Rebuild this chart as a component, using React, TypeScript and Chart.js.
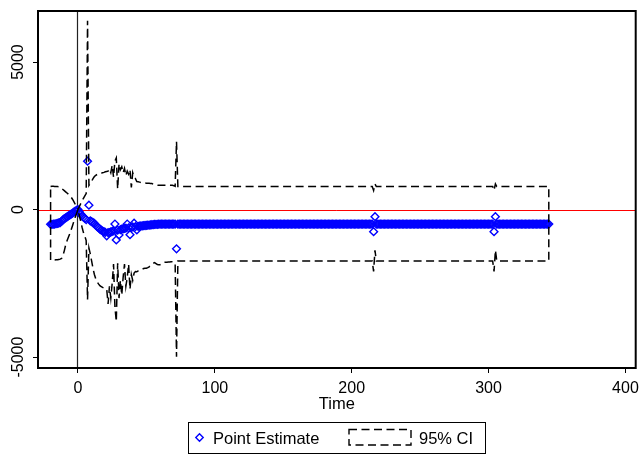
import React, { useEffect, useRef } from "react";
import { Chart, registerables } from "chart.js";

Chart.register(...registerables);

const FONT = "'Liberation Sans', Arial, Helvetica, sans-serif";

// Time runs from firstTime in steps of one period
const firstTime = -20;
const xTicks = [0, 100, 200, 300, 400];
const yTicks = [-5000, 0, 5000];
const xTitle = "Time";
const legendLabels = ["Point Estimate", "95% CI"];

// t = -20 .. 344
const pointEstimate = [
  -500, -500, -495, -490, -480, -470, -455, -440, -400, -350,
  -310, -280, -250, -215, -185, -155, -125, -90, -55, -25,
  0, -80, -150, -210, -260, -300, -340, 1640, 150, -380,
  -410, -440, -470, -530, -580, -620, -660, -700, -730, -750,
  -770, -890, -780, -780, -760, -740, -720, -490, -1030, -700,
  -860, -680, -660, -650, -640, -630, -490, -620, -850, -600,
  -590, -460, -580, -690, -570, -560, -555, -550, -545, -540,
  -535, -530, -525, -520, -515, -510, -505, -500, -500, -495,
  -495, -490, -490, -490, -490, -490, -490, -490, -490, -490,
  -490, -490, -1330,
  // 73-92
  -490, -490, -490, -490, -490, -490, -490, -490, -490, -490, -490, -490, -490, -490, -490, -490, -490, -490, -490, -490,
  // 93-112
  -490, -490, -490, -490, -490, -490, -490, -490, -490, -490, -490, -490, -490, -490, -490, -490, -490, -490, -490, -490,
  // 113-132
  -490, -490, -490, -490, -490, -490, -490, -490, -490, -490, -490, -490, -490, -490, -490, -490, -490, -490, -490, -490,
  // 133-152
  -490, -490, -490, -490, -490, -490, -490, -490, -490, -490, -490, -490, -490, -490, -490, -490, -490, -490, -490, -490,
  // 153-172
  -490, -490, -490, -490, -490, -490, -490, -490, -490, -490, -490, -490, -490, -490, -490, -490, -490, -490, -490, -490,
  // 173-192
  -490, -490, -490, -490, -490, -490, -490, -490, -490, -490, -490, -490, -490, -490, -490, -490, -490, -490, -490, -490,
  // 193-212
  -490, -490, -490, -490, -490, -490, -490, -490, -490, -490, -490, -490, -490, -490, -490, -490, -490, -490, -490, -490,
  // 213-232
  -490, -490, -490, -750, -240, -490, -490, -490, -490, -490, -490, -490, -490, -490, -490, -490, -490, -490, -490, -490,
  // 233-252
  -490, -490, -490, -490, -490, -490, -490, -490, -490, -490, -490, -490, -490, -490, -490, -490, -490, -490, -490, -490,
  // 253-272
  -490, -490, -490, -490, -490, -490, -490, -490, -490, -490, -490, -490, -490, -490, -490, -490, -490, -490, -490, -490,
  // 273-292
  -490, -490, -490, -490, -490, -490, -490, -490, -490, -490, -490, -490, -490, -490, -490, -490, -490, -490, -490, -490,
  // 293-312
  -490, -490, -490, -490, -490, -490, -490, -490, -490, -490, -490, -750, -240, -490, -490, -490, -490, -490, -490, -490,
  // 313-332
  -490, -490, -490, -490, -490, -490, -490, -490, -490, -490, -490, -490, -490, -490, -490, -490, -490, -490, -490, -490,
  // 333-344
  -490, -490, -490, -490, -490, -490, -490, -490, -490, -490, -490, -490,
];

const ciUpper = [
  780, 790, 790, 785, 780, 780, 775, 760, 720, 680,
  640, 600, 560, 520, 470, 420, 350, 270, 180, 90,
  0, 100, 200, 300, 380, 460, 540, 6400, 820, 900,
  960, 1050, 1120, 1160, 1190, 1210, 1220, 1230, 1250, 1260,
  1280, 1290, 1300, 1380, 1250, 1500, 1100, 1650, 1750, 700,
  1550, 1350, 1450, 1250, 1400, 1150, 1300, 1200, 1350, 750,
  1250, 1100, 1050, 950, 940, 930, 920, 910, 905, 900,
  895, 890, 890, 885, 880, 860, 840, 830, 825, 820,
  820, 820, 820, 820, 820, 820, 820, 820, 820, 820,
  810, 790, 2300,
  // 73-92
  780, 780, 780, 780, 780, 780, 780, 780, 780, 780, 780, 780, 780, 780, 780, 780, 780, 780, 780, 780,
  // 93-112
  780, 780, 780, 780, 780, 780, 780, 780, 780, 780, 780, 780, 780, 780, 780, 780, 780, 780, 780, 780,
  // 113-132
  780, 780, 780, 780, 780, 780, 780, 780, 780, 780, 780, 780, 780, 780, 780, 780, 780, 780, 780, 780,
  // 133-152
  780, 780, 780, 780, 780, 780, 780, 780, 780, 780, 780, 780, 780, 780, 780, 780, 780, 780, 780, 780,
  // 153-172
  780, 780, 780, 780, 780, 780, 780, 780, 780, 780, 780, 780, 780, 780, 780, 780, 780, 780, 780, 780,
  // 173-192
  780, 780, 780, 780, 780, 780, 780, 780, 780, 780, 780, 780, 780, 780, 780, 780, 780, 780, 780, 780,
  // 193-212
  780, 780, 780, 780, 780, 780, 780, 780, 780, 780, 780, 780, 780, 780, 780, 780, 780, 780, 780, 780,
  // 213-232
  780, 780, 780, 650, 870, 780, 780, 780, 780, 780, 780, 780, 780, 780, 780, 780, 780, 780, 780, 780,
  // 233-252
  780, 780, 780, 780, 780, 780, 780, 780, 780, 780, 780, 780, 780, 780, 780, 780, 780, 780, 780, 780,
  // 253-272
  780, 780, 780, 780, 780, 780, 780, 780, 780, 780, 780, 780, 780, 780, 780, 780, 780, 780, 780, 780,
  // 273-292
  780, 780, 780, 780, 780, 780, 780, 780, 780, 780, 780, 780, 780, 780, 780, 780, 780, 780, 780, 780,
  // 293-312
  780, 780, 780, 780, 780, 780, 780, 780, 780, 780, 780, 650, 870, 780, 780, 780, 780, 780, 780, 780,
  // 313-332
  780, 780, 780, 780, 780, 780, 780, 780, 780, 780, 780, 780, 780, 780, 780, 780, 780, 780, 780, 780,
  // 333-344
  780, 780, 780, 780, 780, 780, 780, 780, 780, 780, 780, 780,
];

const ciLower = [
  -1720, -1720, -1715, -1710, -1705, -1700, -1690, -1680, -1660, -1560,
  -1400, -1200, -1060, -940, -820, -690, -550, -400, -260, -130,
  0, -200, -400, -600, -780, -900, -1050, -3050, -1300, -1500,
  -1750, -2000, -2200, -2350, -2450, -2520, -2580, -2610, -2640, -2660,
  -2670, -2700, -3200, -2600, -3000, -2500, -1850, -3300, -3800, -1820,
  -3000, -2400, -2900, -2300, -1850, -2600, -2300, -1850, -2700, -2200,
  -2400, -2150, -2100, -2110, -2080, -2050, -2040, -2020, -2000, -1990,
  -1990, -1970, -1940, -1900, -1860, -1820, -1800, -1830, -1860, -1870,
  -1870, -1840, -1810, -1790, -1785, -1785, -1780, -1775, -1770, -1770,
  -1790, -1810, -4990,
  // 73-92
  -1740, -1740, -1740, -1740, -1740, -1740, -1740, -1740, -1740, -1740, -1740, -1740, -1740, -1740, -1740, -1740, -1740, -1740, -1740, -1740,
  // 93-112
  -1740, -1740, -1740, -1740, -1740, -1740, -1740, -1740, -1740, -1740, -1740, -1740, -1740, -1740, -1740, -1740, -1740, -1740, -1740, -1740,
  // 113-132
  -1740, -1740, -1740, -1740, -1740, -1740, -1740, -1740, -1740, -1740, -1740, -1740, -1740, -1740, -1740, -1740, -1740, -1740, -1740, -1740,
  // 133-152
  -1740, -1740, -1740, -1740, -1740, -1740, -1740, -1740, -1740, -1740, -1740, -1740, -1740, -1740, -1740, -1740, -1740, -1740, -1740, -1740,
  // 153-172
  -1740, -1740, -1740, -1740, -1740, -1740, -1740, -1740, -1740, -1740, -1740, -1740, -1740, -1740, -1740, -1740, -1740, -1740, -1740, -1740,
  // 173-192
  -1740, -1740, -1740, -1740, -1740, -1740, -1740, -1740, -1740, -1740, -1740, -1740, -1740, -1740, -1740, -1740, -1740, -1740, -1740, -1740,
  // 193-212
  -1740, -1740, -1740, -1740, -1740, -1740, -1740, -1740, -1740, -1740, -1740, -1740, -1740, -1740, -1740, -1740, -1740, -1740, -1740, -1740,
  // 213-232
  -1740, -1740, -1740, -2100, -1380, -1740, -1740, -1740, -1740, -1740, -1740, -1740, -1740, -1740, -1740, -1740, -1740, -1740, -1740, -1740,
  // 233-252
  -1740, -1740, -1740, -1740, -1740, -1740, -1740, -1740, -1740, -1740, -1740, -1740, -1740, -1740, -1740, -1740, -1740, -1740, -1740, -1740,
  // 253-272
  -1740, -1740, -1740, -1740, -1740, -1740, -1740, -1740, -1740, -1740, -1740, -1740, -1740, -1740, -1740, -1740, -1740, -1740, -1740, -1740,
  // 273-292
  -1740, -1740, -1740, -1740, -1740, -1740, -1740, -1740, -1740, -1740, -1740, -1740, -1740, -1740, -1740, -1740, -1740, -1740, -1740, -1740,
  // 293-312
  -1740, -1740, -1740, -1740, -1740, -1740, -1740, -1740, -1740, -1740, -1740, -2100, -1380, -1740, -1740, -1740, -1740, -1740, -1740, -1740,
  // 313-332
  -1740, -1740, -1740, -1740, -1740, -1740, -1740, -1740, -1740, -1740, -1740, -1740, -1740, -1740, -1740, -1740, -1740, -1740, -1740, -1740,
  // 333-344
  -1740, -1740, -1740, -1740, -1740, -1740, -1740, -1740, -1740, -1740, -1740, -1740,
];

const X_MIN = -29.2;
const X_MAX = 407.5;
const Y_MIN = -5370;
const Y_MAX = 6730;
const BLUE = "#0000ff";
const DASH = [8, 4.5];

const decorPlugin = {
  id: "decor",
  beforeDatasetsDraw(chart: any) {
    const { ctx, chartArea: a, scales } = chart;
    const x = scales.x;
    const y = scales.y;
    ctx.save();
    ctx.lineWidth = 1;
    const y0 = Math.round(y.getPixelForValue(0)) + 0.5;
    ctx.strokeStyle = "#ff0000";
    ctx.beginPath();
    ctx.moveTo(a.left, y0);
    ctx.lineTo(a.right, y0);
    ctx.stroke();
    const x0 = Math.round(x.getPixelForValue(0)) - 0.5;
    ctx.strokeStyle = "#222222";
    ctx.lineWidth = 1.2;
    ctx.beginPath();
    ctx.moveTo(x0, a.top);
    ctx.lineTo(x0, a.bottom);
    ctx.stroke();
    ctx.restore();
  },
  afterDatasetsDraw(chart: any) {
    const { ctx, chartArea: a } = chart;
    ctx.save();
    ctx.strokeStyle = "#000";
    ctx.lineWidth = 2;
    ctx.strokeRect(a.left, a.top, a.right - a.left, a.bottom - a.top);
    ctx.restore();
  },
  afterDraw(chart: any) {
    const { ctx, scales } = chart;
    const y = scales.y;
    ctx.save();
    // y tick labels, rotated
    ctx.fillStyle = "#000";
    ctx.font = `16px ${FONT}`;
    ctx.textAlign = "center";
    ctx.textBaseline = "middle";
    y.ticks.forEach((t: any) => {
      const py = y.getPixelForValue(t.value);
      ctx.save();
      ctx.translate(18.5, py);
      ctx.rotate(-Math.PI / 2);
      ctx.fillText(String(t.value), 0, 0);
      ctx.restore();
    });
    // legend
    ctx.strokeStyle = "#000";
    ctx.lineWidth = 1;
    ctx.strokeRect(188.5, 422.5, 297, 31);
    // diamond marker
    ctx.strokeStyle = BLUE;
    ctx.lineWidth = 1.4;
    const dx = 199.5, dy = 437.5, r = 3.7;
    ctx.beginPath();
    ctx.moveTo(dx - r, dy);
    ctx.lineTo(dx, dy - r);
    ctx.lineTo(dx + r, dy);
    ctx.lineTo(dx, dy + r);
    ctx.closePath();
    ctx.stroke();
    ctx.fillStyle = "#000";
    ctx.font = `16.5px ${FONT}`;
    ctx.textAlign = "left";
    ctx.textBaseline = "alphabetic";
    ctx.fillText(legendLabels[0], 213, 444);
    ctx.strokeStyle = "#000";
    ctx.lineWidth = 1.4;
    ctx.setLineDash(DASH);
    ctx.strokeRect(349, 429.5, 62, 15.5);
    ctx.setLineDash([]);
    ctx.fillText(legendLabels[1], 419, 444);
    ctx.restore();
  },
};

export default function App() {
  const canvasRef = useRef<HTMLCanvasElement | null>(null);

  useEffect(() => {
    const canvas = canvasRef.current;
    if (!canvas) return;
    const peData = pointEstimate.map((v, i) => ({ x: firstTime + i, y: v }));
    const upperPts = ciUpper.map((v, i) => ({ x: firstTime + i, y: v }));
    const lowerPts = ciLower.map((v, i) => ({ x: firstTime + i, y: v })).reverse();
    const ciOutline = [...upperPts, ...lowerPts, upperPts[0]];

    const chart = new Chart(canvas, {
      type: "scatter",
      data: {
        datasets: [
          {
            label: legendLabels[1],
            data: ciOutline,
            showLine: true,
            borderColor: "#000",
            borderWidth: 1.5,
            borderDash: DASH,
            pointRadius: 0,
            pointHoverRadius: 0,
            fill: false,
            tension: 0,
            order: 0,
          } as any,
          {
            label: legendLabels[0],
            data: peData,
            showLine: false,
            pointStyle: "rectRot",
            pointRadius: 3.9,
            pointHoverRadius: 3.9,
            pointBorderWidth: 1.4,
            borderColor: BLUE,
            backgroundColor: "rgba(0,0,0,0)",
            order: 1,
          } as any,
        ],
      },
      options: {
        animation: false,
        responsive: false,
        devicePixelRatio: 1,
        events: [],
        layout: { padding: { top: 11, right: 5, left: 0, bottom: 0 } },
        plugins: {
          legend: { display: false },
          tooltip: { enabled: false },
        },
        scales: {
          x: {
            type: "linear",
            min: X_MIN,
            max: X_MAX,
            afterBuildTicks: (s: any) => {
              s.ticks = xTicks.map((v) => ({ value: v }));
            },
            afterFit: (s: any) => {
              s.height = 86;
              s.paddingLeft = 0;
              s.paddingRight = 0;
            },
            grid: {
              display: true,
              drawOnChartArea: false,
              drawTicks: true,
              tickLength: 5,
              color: "#000",
              lineWidth: 1,
            },
            border: { display: false },
            ticks: {
              color: "#000",
              font: { family: FONT, size: 16 },
              padding: 6,
              maxRotation: 0,
              autoSkip: false,
            },
            title: {
              display: true,
              text: xTitle,
              color: "#000",
              font: { family: FONT, size: 16.5 },
              padding: { top: 0, bottom: 40 },
            },
          },
          y: {
            type: "linear",
            min: Y_MIN,
            max: Y_MAX,
            afterBuildTicks: (s: any) => {
              s.ticks = yTicks.map((v) => ({ value: v }));
            },
            afterFit: (s: any) => {
              s.width = 38;
              s.paddingTop = 0;
              s.paddingBottom = 0;
            },
            grid: {
              display: true,
              drawOnChartArea: false,
              drawTicks: true,
              tickLength: 5,
              color: "#000",
              lineWidth: 1,
            },
            border: { display: false },
            ticks: { display: false },
          },
        },
      },
      plugins: [decorPlugin],
    } as any);

    return () => chart.destroy();
  }, []);

  return (
    <div
      style={{
        position: "absolute",
        left: 0,
        top: 0,
        width: 641,
        height: 454,
        background: "#fff",
      }}
    >
      <canvas ref={canvasRef} width={641} height={454} style={{ display: "block" }} />
    </div>
  );
}
